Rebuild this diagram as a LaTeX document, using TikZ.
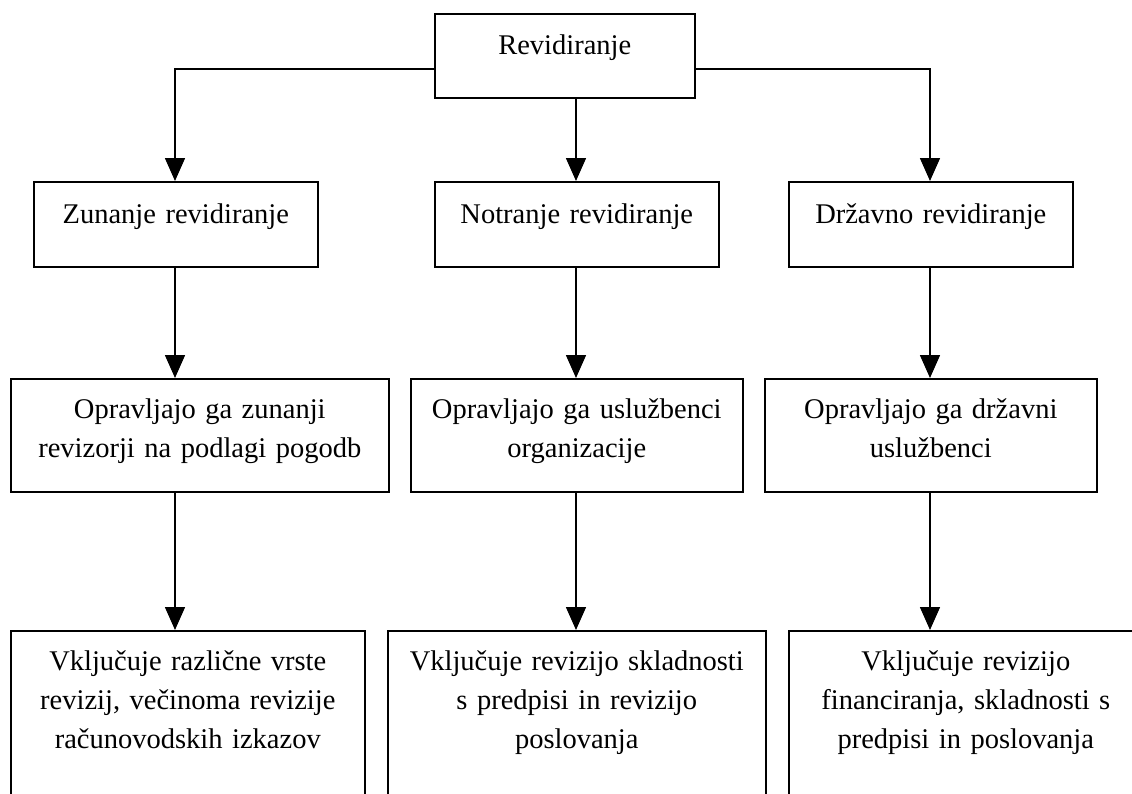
\documentclass[tikz,border=0pt]{standalone}
\usepackage{fontspec}
\setmainfont{Liberation Serif}
\usetikzlibrary{arrows.meta}

\begin{document}
\begin{tikzpicture}[>={Triangle[width=10pt,length=11.5pt]}, x=0.5pt, y=-0.5pt, line width=0.8pt,
	blok/.style={draw, anchor=north west, inner xsep=0pt, inner ysep=0pt, align=center, text width=#1, font=\fontsize{14.25pt}{19.5pt}\selectfont}]
		\useasboundingbox (0,0) rectangle (1132,794);
		% stolpci puscic
		\coordinate (veja) at (0,69);
		\coordinate (k1) at (175,0);
		\coordinate (k2) at (576,0);
		\coordinate (k3) at (930,0);
		\node[blok=130pt, text height=20.5pt, text depth=21.5pt] (rev) at (434,13) {Revidiranje};
		\node[blok=142pt, text height=21pt, text depth=21.5pt] (zun) at (33,181) {Zunanje revidiranje};
		\node[blok=142pt, text height=21pt, text depth=21.5pt] (not) at (434,181) {Notranje revidiranje};
		\node[blok=142pt, text height=21pt, text depth=21.5pt] (drz) at (788,181) {Državno revidiranje};
		\node[blok=189pt, text height=20pt, text depth=36.5pt] (zun2) at (10,378) {Opravljajo ga zunanji\\revizorji na podlagi pogodb};
		\node[blok=166pt, text height=20pt, text depth=36.5pt] (not2) at (410,378) {Opravljajo ga uslužbenci\\organizacije};
		\node[blok=166pt, text height=20pt, text depth=36.5pt] (drz2) at (764,378) {Opravljajo ga državni\\uslužbenci};
		\node[blok=177pt, text height=20pt, text depth=65pt] (zun3) at (10,630) {Vključuje različne vrste\\revizij, večinoma revizije\\računovodskih izkazov};
		\node[blok=189pt, text height=20pt, text depth=65pt] (not3) at (387,630) {Vključuje revizijo skladnosti\\s predpisi in revizijo\\poslovanja};
		\node[blok=177pt, text height=20pt, text depth=65pt] (drz3) at (788,630) {Vključuje revizijo\\financiranja, skladnosti s\\predpisi in poslovanja};
		% puscice
		\draw[->] (rev.west |- veja) -| (zun.north -| k1);
		\draw[->] (rev.east |- veja) -| (drz.north -| k3);
		\draw[->] (rev.south -| k2) -- (not.north -| k2);
		\draw[->] (zun.south -| k1) -- (zun2.north -| k1);
		\draw[->] (not.south -| k2) -- (not2.north -| k2);
		\draw[->] (drz.south -| k3) -- (drz2.north -| k3);
		\draw[->] (zun2.south -| k1) -- (zun3.north -| k1);
		\draw[->] (not2.south -| k2) -- (not3.north -| k2);
		\draw[->] (drz2.south -| k3) -- (drz3.north -| k3);
\end{tikzpicture}
\end{document}
